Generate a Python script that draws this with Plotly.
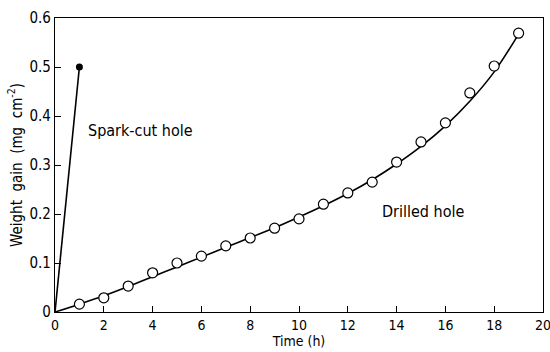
import plotly.graph_objects as go

# Drilled hole measured points
drilled_time = [1, 2, 3, 4, 5, 6, 7, 8, 9, 10, 11, 12, 13, 14, 15, 16, 17, 18, 19]
drilled_gain = [0.016, 0.029, 0.053, 0.080, 0.100, 0.114, 0.135, 0.151, 0.171, 0.190,
                0.220, 0.243, 0.265, 0.306, 0.347, 0.386, 0.447, 0.502, 0.569]

# Drilled hole fitted curve
curve_time = [0, 1, 2, 3, 4, 5, 6, 7, 8, 9, 10, 11, 12, 13, 14, 15, 16, 17, 18, 19]
curve_gain = [0.0, 0.016, 0.033, 0.052, 0.072, 0.092, 0.112, 0.132, 0.152, 0.172,
              0.194, 0.217, 0.242, 0.270, 0.302, 0.338, 0.380, 0.430, 0.490, 0.567]

# Spark-cut hole
spark_time = [0, 1]
spark_gain = [0.0, 0.5]

x_ticks = [0, 2, 4, 6, 8, 10, 12, 14, 16, 18, 20]
y_ticks = [0, 0.1, 0.2, 0.3, 0.4, 0.5, 0.6]
y_labels = ["0", "0.1", "0.2", "0.3", "0.4", "0.5", "0.6"]

FONT = "DejaVu Sans Condensed, DejaVu Sans"

fig = go.Figure()
fig.add_trace(go.Scatter(x=curve_time, y=curve_gain, mode="lines",
                         line=dict(color="black", width=1.6, shape="spline"),
                         showlegend=False, hoverinfo="skip"))
fig.add_trace(go.Scatter(x=drilled_time, y=drilled_gain, mode="markers",
                         marker=dict(symbol="circle", size=10, color="white",
                                     line=dict(color="black", width=1.2)),
                         showlegend=False))
fig.add_trace(go.Scatter(x=spark_time, y=spark_gain, mode="lines",
                         line=dict(color="black", width=1.6),
                         showlegend=False, hoverinfo="skip"))
fig.add_trace(go.Scatter(x=[spark_time[-1]], y=[spark_gain[-1]], mode="markers",
                         marker=dict(symbol="circle", size=7, color="black"),
                         showlegend=False))

fig.add_annotation(x=1.25, y=0.371, text="Spark-cut hole", showarrow=False,
                   xanchor="left", yanchor="middle",
                   font=dict(family=FONT, size=16, color="black"))
fig.add_annotation(x=13.3, y=0.206, text="Drilled hole", showarrow=False,
                   xanchor="left", yanchor="middle",
                   font=dict(family=FONT, size=16, color="black"))

fig.update_layout(
    width=550, height=352,
    margin=dict(l=55, r=7, t=18, b=40, autoexpand=False),
    paper_bgcolor="white", plot_bgcolor="white",
    font=dict(family=FONT, size=15, color="black"),
    xaxis=dict(range=[0, 20], tickvals=x_ticks, ticks="inside", ticklen=6,
               tickcolor="black", showgrid=False, zeroline=False,
               showline=True, linecolor="black", linewidth=1.2, mirror=True,
               tickfont=dict(size=14), ticklabeloverflow="allow",
               title=dict(text="Time (h)", standoff=0, font=dict(size=14))),
    yaxis=dict(range=[0, 0.6], tickvals=y_ticks, ticktext=y_labels, ticks="inside",
               ticklen=6, tickcolor="black", showgrid=False, zeroline=False,
               showline=True, linecolor="black", linewidth=1.2, mirror=True,
               tickfont=dict(size=15),
               title=dict(text="Weight  gain  (mg  cm<sup>-2</sup>)", standoff=3,
                          font=dict(size=15))),
)

fig.write_html("out.html",
               config={"displayModeBar": False},
               post_script="document.body.style.margin='0';"
                           "document.body.style.overflow='hidden';")
